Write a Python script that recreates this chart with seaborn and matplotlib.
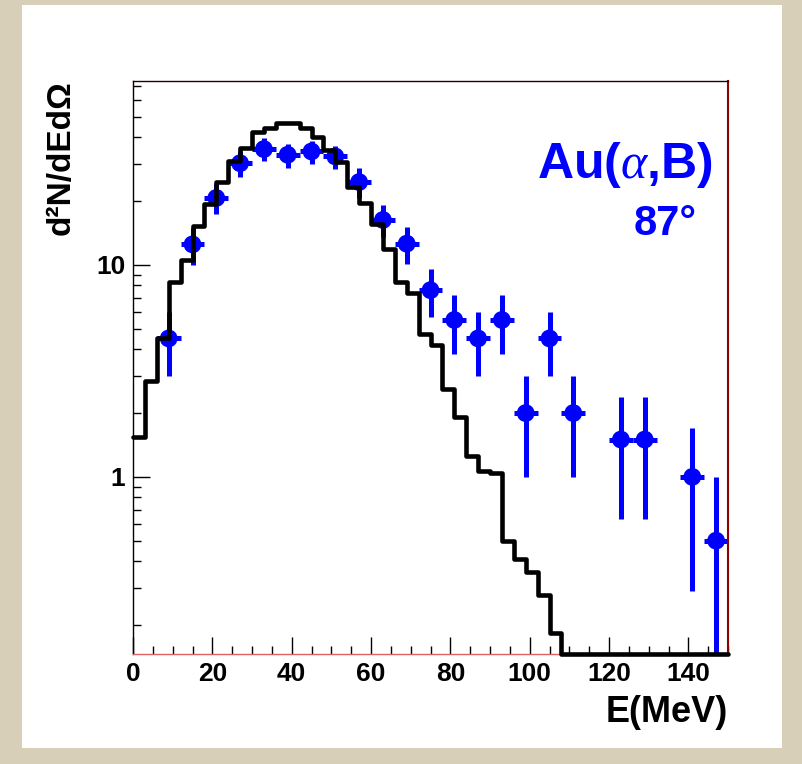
import numpy as np
import pandas as pd
import matplotlib
matplotlib.use("Agg")
import matplotlib.pyplot as plt
from matplotlib.patches import Rectangle
from matplotlib.ticker import MultipleLocator, FixedLocator, FixedFormatter, NullFormatter
import seaborn as sns

# ---------------- data ----------------
hist_edges = list(range(0, 151, 3))           # 3 MeV bins, 0..150
hist_counts = [1.55, 2.83, 4.54, 8.34, 10.5, 15.2, 19.4, 24.7, 30.8, 35.8,
               42.3, 44.2, 46.5, 46.5, 44.2, 40.1, 34.9, 30.5, 23.3, 19.5,
               15.6, 11.9, 8.34, 7.35, 4.70, 4.17, 2.59, 1.92, 1.25, 1.07,
               1.04, 0.50, 0.41, 0.356, 0.276, 0.184,
               0, 0, 0, 0, 0, 0, 0, 0, 0, 0, 0, 0, 0, 0]

data_E = [9, 15, 21, 27, 33, 39, 45, 51, 57, 63, 69, 75, 81, 87, 93,
          99, 105, 111, 123, 129, 141, 147]
data_y = [4.5, 12.5, 20.7, 30.2, 35.2, 33.1, 34.3, 32.5, 24.6, 16.3, 12.6,
          7.6, 5.5, 4.5, 5.5, 2.0, 4.5, 2.0, 1.5, 1.5, 1.0, 0.5]
data_yerr = [1.5, 2.5, 3.3, 4.2, 4.3, 4.3, 4.3, 4.1, 4.0, 2.8, 2.5,
             1.95, 1.7, 1.5, 1.7, 1.0, 1.5, 1.0, 0.87, 0.87, 0.71, 0.5]
data_xerr = [3] * len(data_E)

x_ticks = [0, 20, 40, 60, 80, 100, 120, 140]
y_ticks = [1, 10]
y_ticklabels = ["1", "10"]

ylim = (0.146, 74.0)
xlim = (0, 150)

# ---------------- style ----------------
sns.set_style("ticks")
plt.rcParams["font.family"] = ["Liberation Sans", "DejaVu Sans"]
plt.rcParams["mathtext.fontset"] = "custom"
plt.rcParams["mathtext.it"] = "Liberation Serif:italic"
plt.rcParams["mathtext.rm"] = "Liberation Sans:bold"
for key in ("text.color", "axes.labelcolor", "xtick.color", "ytick.color",
            "xtick.labelcolor", "ytick.labelcolor"):
    plt.rcParams[key] = "black"

BLUE = "#0000ff"

fig = plt.figure(figsize=(8.02, 7.64), dpi=100)
fig.patch.set_facecolor("#d8cfb8")
fig.patches.append(Rectangle((22 / 802, 1 - 748 / 764), (782 - 22) / 802, (748 - 5) / 764,
                             transform=fig.transFigure, facecolor="white",
                             edgecolor="none", zorder=-10))

ax = fig.add_axes([133 / 802, 1 - 654 / 764, (728 - 133) / 802, (654 - 80.7) / 764])
ax.set_facecolor("white")
ax.set_yscale("log")

# data points with error bars
ax.errorbar(data_E, data_y, xerr=data_xerr, yerr=data_yerr, fmt="none",
            ecolor=BLUE, elinewidth=3.6, capsize=0, zorder=2)
pts = pd.DataFrame({"E": data_E, "y": data_y})
sns.scatterplot(data=pts, x="E", y="y", ax=ax, color=BLUE, s=165,
                edgecolor="none", linewidth=0, zorder=3, legend=False)

# histogram (step outline)
hist_y = np.maximum(np.array(hist_counts + [hist_counts[-1]], dtype=float), ylim[0])
hist_df = pd.DataFrame({"E": hist_edges, "y": hist_y})
sns.lineplot(data=hist_df, x="E", y="y", ax=ax, color="black", linewidth=3.3,
             drawstyle="steps-post", zorder=4, clip_on=False, legend=False,
             estimator=None)

ax.set_xlim(*xlim)
ax.set_ylim(*ylim)

# ticks
ax.xaxis.set_major_locator(FixedLocator(x_ticks))
ax.xaxis.set_minor_locator(MultipleLocator(5))
ax.yaxis.set_major_locator(FixedLocator(y_ticks))
ax.yaxis.set_major_formatter(FixedFormatter(y_ticklabels))
minor_y = [v * d for d in (0.1, 1, 10) for v in range(2, 10)]
ax.yaxis.set_minor_locator(FixedLocator(minor_y))
ax.yaxis.set_minor_formatter(NullFormatter())
ax.tick_params(which="both", direction="in", top=False, right=False,
               color="black", width=1.0, labelcolor="black")
ax.tick_params(which="major", length=12.5, pad=5.5, labelsize=19)
ax.tick_params(which="minor", length=6)
for lab in ax.get_xticklabels() + ax.get_yticklabels():
    lab.set_fontweight("bold")

# spines
ax.spines["left"].set_color("black")
ax.spines["left"].set_linewidth(1.0)
ax.spines["bottom"].set_color("#e06060")
ax.spines["bottom"].set_linewidth(1.0)
ax.spines["top"].set_color("#200000")
ax.spines["top"].set_linewidth(1.0)
ax.spines["right"].set_color("#8b0000")
ax.spines["right"].set_linewidth(1.5)

# labels
ax.set_xlabel("E(MeV)", fontsize=26, fontweight="bold", loc="right", color="black")
ax.xaxis.set_label_coords(1.0, -0.072)
ax.set_ylabel("d²N/dEdΩ", fontsize=24, fontweight="bold", loc="top", color="black")
ax.yaxis.set_label_coords(-0.094, 1.0)

ax.text(0.975, 0.830, r"Au($\alpha$,B)", transform=ax.transAxes, ha="right",
        va="baseline", fontsize=36, fontweight="bold", color=BLUE)
ax.text(0.948, 0.731, "87°", transform=ax.transAxes, ha="right",
        va="baseline", fontsize=30, fontweight="bold", color=BLUE)

fig.savefig("out.png", dpi=100, facecolor=fig.get_facecolor())
